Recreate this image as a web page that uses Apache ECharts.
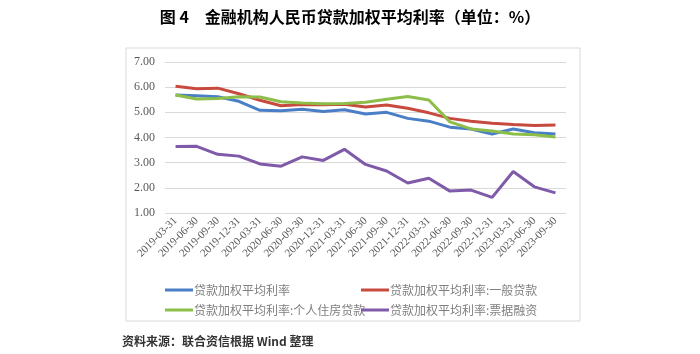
<!DOCTYPE html>
<html>
<head>
<meta charset="utf-8">
<script src="https://cdn.jsdelivr.net/npm/echarts@6/dist/echarts.min.js"></script>
<style>
  html, body { margin: 0; padding: 0; background: #fff; }
  #main { width: 700px; height: 354px; }
</style>
</head>
<body>
<div id="main"></div>
<script>
// 季度末日期
var categories = ['2019-03-31', '2019-06-30', '2019-09-30', '2019-12-31',
    '2020-03-31', '2020-06-30', '2020-09-30', '2020-12-31',
    '2021-03-31', '2021-06-30', '2021-09-30', '2021-12-31',
    '2022-03-31', '2022-06-30', '2022-09-30', '2022-12-31',
    '2023-03-31', '2023-06-30', '2023-09-30'];

var seriesNames = ['贷款加权平均利率', '贷款加权平均利率:一般贷款',
    '贷款加权平均利率:个人住房贷款', '贷款加权平均利率:票据融资'];

var avgRate = [5.69, 5.66, 5.62, 5.44, 5.08, 5.06, 5.12, 5.03, 5.10, 4.93,
    5.00, 4.76, 4.65, 4.41, 4.34, 4.14, 4.34, 4.19, 4.14];
var generalRate = [6.04, 5.94, 5.96, 5.74, 5.48, 5.26, 5.31, 5.30, 5.32, 5.21,
    5.29, 5.16, 4.98, 4.76, 4.65, 4.57, 4.52, 4.48, 4.50];
var mortgageRate = [5.69, 5.53, 5.55, 5.62, 5.61, 5.42, 5.37, 5.34, 5.35, 5.40,
    5.52, 5.63, 5.49, 4.62, 4.34, 4.26, 4.14, 4.11, 4.02];
var billRate = [3.64, 3.65, 3.33, 3.26, 2.95, 2.86, 3.23, 3.09, 3.53, 2.93,
    2.67, 2.19, 2.38, 1.87, 1.91, 1.62, 2.65, 2.04, 1.80];

var colors = ['#4A7EC7', '#C84A3E', '#8DBE4A', '#7E5AA8'];

var myChart = echarts.init(document.getElementById('main'));

function makeLine(name, data, color) {
    return {
        name: name,
        type: 'line',
        symbol: 'none',
        data: data,
        lineStyle: { width: 3, color: color },
        itemStyle: { color: color }
    };
}

var legendStyle = {
    orient: 'vertical',
    icon: 'rect',
    itemWidth: 28,
    itemHeight: 3,
    itemGap: 8,
    textStyle: { color: '#7f7f7f', fontSize: 12, fontFamily: 'Noto Sans CJK SC', padding: [0, 0, 0, -4] }
};

var option = {
    animation: false,
    color: colors,
    title: {
        text: '图 4　金融机构人民币贷款加权平均利率（单位：%）',
        left: 'center',
        top: 4,
        textStyle: { fontSize: 16, fontWeight: 'bold', color: '#000', fontFamily: 'Noto Sans CJK SC' }
    },
    graphic: [
        {
            type: 'rect',
            shape: { x: 126, y: 48, width: 454, height: 273 },
            style: { fill: 'none', stroke: '#d9d9d9', lineWidth: 1 },
            z: -1
        },
        {
            type: 'text',
            left: 122,
            top: 335,
            style: { text: '资料来源：联合资信根据 Wind 整理', fill: '#333', fontSize: 12, fontFamily: 'Noto Sans CJK SC', fontWeight: 'bold' }
        }
    ],
    legend: [
        Object.assign({ left: 160, top: 279, data: [seriesNames[0], seriesNames[2]] }, legendStyle),
        Object.assign({ left: 356, top: 279, data: [seriesNames[1], seriesNames[3]] }, legendStyle)
    ],
    grid: { left: 165, right: 134, top: 62, bottom: 141 },
    xAxis: {
        type: 'category',
        data: categories,
        boundaryGap: true,
        axisLine: { show: false },
        axisTick: { show: false },
        axisLabel: {
            rotate: 45,
            interval: 0,
            color: '#595959',
            fontSize: 11,
            fontFamily: 'Liberation Serif',
            margin: 6
        }
    },
    yAxis: {
        type: 'value',
        min: 1,
        max: 7,
        interval: 1,
        axisLine: { show: false },
        axisTick: { show: false },
        splitLine: { lineStyle: { color: '#d9d9d9' } },
        axisLabel: {
            color: '#595959',
            fontSize: 12,
            fontFamily: 'Liberation Serif',
            margin: 10,
            formatter: function (v) { return v.toFixed(2); }
        }
    },
    series: [
        makeLine(seriesNames[0], avgRate, colors[0]),
        makeLine(seriesNames[1], generalRate, colors[1]),
        makeLine(seriesNames[2], mortgageRate, colors[2]),
        makeLine(seriesNames[3], billRate, colors[3])
    ]
};

myChart.setOption(option);
</script>
</body>
</html>
